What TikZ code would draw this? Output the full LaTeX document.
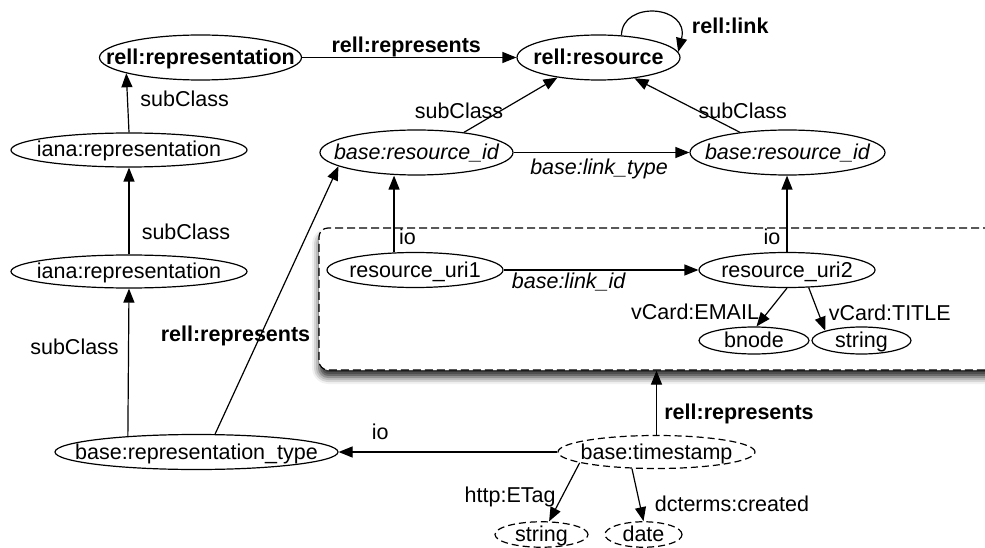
\documentclass[tikz,border=0pt]{standalone}
\usepackage{fontspec}
\setmainfont{Liberation Sans}
\usetikzlibrary{shapes.geometric, arrows.meta, shadows.blur}
\newcommand\mk[1]{\makebox[0pt]{#1}}
\newcommand\fs{\fontsize{21.5}{26}\selectfont}
\begin{document}
\begin{tikzpicture}[x=1pt, y=-1pt,
  every node/.style={font=\fs, text height=16pt, text depth=2pt},
  ell/.style={draw, ellipse, line width=1.2pt, inner sep=0pt, fill=white},
  dell/.style={ell, dash pattern=on 7pt off 4pt},
  conn/.style={draw, line width=1.2pt, -{Triangle[length=14pt,width=11pt]}},
  lab/.style={inner sep=0pt, anchor=center},
  blab/.style={lab, font=\fs\bfseries},
  ilab/.style={lab, font=\fs\itshape},
  boxst/.style={draw, line width=1.2pt, dash pattern=on 8pt off 4pt, rounded corners=9pt, fill=white,
    minimum width=681pt, minimum height=142pt, inner sep=0pt,
    blur shadow={shadow xshift=0pt, shadow yshift=-7pt, shadow blur radius=7pt, shadow opacity=85}}
]
\path[use as bounding box, clip] (0,0) rectangle (985,548);

% grouping box
\node[boxst] (box) at (659.5,299) {};

% nodes
\node[ell, minimum width=202pt, minimum height=45pt] (repr) at (200.5,57.5) {\mk{\bfseries rell:representation}};
\node[ell, minimum width=163pt, minimum height=45pt] (res) at (598.5,57.5) {\mk{\bfseries rell:resource}};
\node[ell, minimum width=236pt, minimum height=34pt] (iana1) at (129,150) {\mk{iana:representation}};
\node[ell, minimum width=236pt, minimum height=33pt] (iana2) at (129,271.5) {\mk{iana:representation}};
\node[ell, minimum width=283pt, minimum height=35pt] (reptype) at (196.5,452) {\mk{base:representation\_type}};
\node[ell, minimum width=193pt, minimum height=45pt] (residL) at (416.5,152.5) {\mk{\itshape base:resource\_id}};
\node[ell, minimum width=195pt, minimum height=45pt] (residR) at (787.5,152.5) {\mk{\itshape base:resource\_id}};
\node[ell, minimum width=176pt, minimum height=35pt] (uri1) at (415,270) {\mk{resource\_uri1}};
\node[ell, minimum width=176pt, minimum height=35pt] (uri2) at (787,270) {\mk{resource\_uri2}};
\node[ell, minimum width=110pt, minimum height=27pt] (bnode) at (754,340.5) {\mk{bnode}};
\node[ell, minimum width=99pt, minimum height=27pt] (string) at (861.5,340.5) {\mk{string}};
\node[dell, minimum width=197pt, minimum height=33pt] (ts) at (656.5,452) {\mk{base:timestamp}};
\node[dell, minimum width=93pt, minimum height=25pt] (str2) at (541.5,534.5) {\mk{string}};
\node[dell, minimum width=77pt, minimum height=25pt] (date) at (643.5,534.5) {\mk{date}};

% connectors
\draw[conn] (repr) -- node[blab, midway, shift={(-3,-12)}] {rell:represents} (res);
\draw[conn] (res.44) .. controls (622,0) and (690,5) .. node[blab, pos=0.75, anchor=west, shift={(17,2)}] {rell:link} (res.4);
\draw[conn] (iana1.north) -- node[lab, pos=0.5, shift={(57,-3)}] {subClass} (repr.192.5);
\draw[conn] (iana2.north) -- node[lab, pos=0.25, shift={(57,0)}] {subClass} (iana1.south);
\draw[conn] (reptype.167.16) -- node[lab, pos=0.6, shift={(-54,0)}] {subClass} (iana2.south);
\draw[conn] (reptype.44) -- node[blab, pos=0.372, shift={(-25.5,0)}] {rell:represents} (residL.190);
\draw[conn] (residL.23) -- node[lab, pos=0.375, shift={(-40,0)}] {subClass} (res.206);
\draw[conn] (residR.157) -- node[lab, pos=0.39, shift={(44,0)}] {subClass} (res.330);
\draw[conn] (residL) -- node[ilab, midway, shift={(-2.5,15.5)}] {base:link\_type} (residR);
\draw[conn] (uri1.140) -- node[lab, pos=0.19, shift={(13.5,0)}] {io} (uri1.140 |- residL.south);
\draw[conn] (uri2.north) -- node[lab, pos=0.19, shift={(-15,0)}] {io} (uri2.north |- residR.south);
\draw[conn] (uri1) -- node[ilab, pos=0.334, shift={(0,11.7)}] {base:link\_id} (uri2);
\draw[conn] (uri2.south) -- node[lab, pos=0.64, shift={(-72.4,0)}] {vCard:EMAIL} (bnode.80);
\draw[conn] (uri2.321) -- node[lab, pos=0.59, shift={(71.3,0)}] {vCard:TITLE} (string.165);
\draw[conn] (ts) -- node[lab, pos=0.81, shift={(0,-19.5)}] {io} (reptype);
\draw[conn] (ts.north) -- node[blab, pos=0.354, shift={(82.5,0)}] {rell:represents} (ts.north |- box.south);
\draw[conn] (ts.188) -- node[lab, pos=0.55, shift={(-52.7,0)}] {http:ETag} (str2.60);
\draw[conn] (ts.214.2) -- node[lab, pos=0.688, shift={(92,0)}] {dcterms:created} (date.north);
\end{tikzpicture}
\end{document}
